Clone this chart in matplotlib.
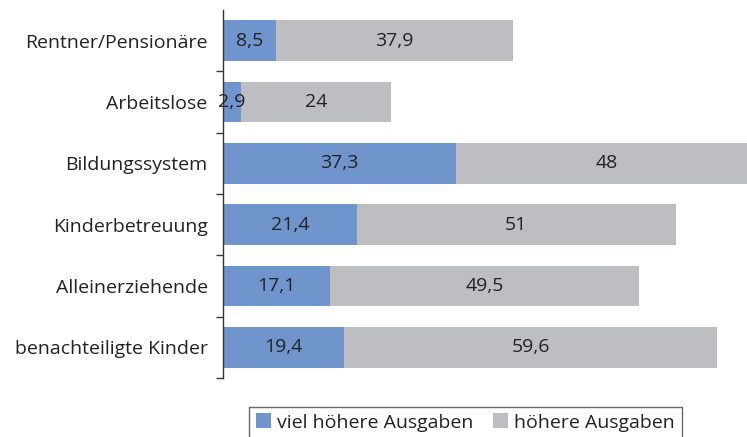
import matplotlib.pyplot as plt
import numpy as np

categories = ["Rentner/Pensionäre", "Arbeitslose", "Bildungssystem",
              "Kinderbetreuung", "Alleinerziehende", "benachteiligte Kinder"]
viel_hoeher = [8.5, 2.9, 37.3, 21.4, 17.1, 19.4]
hoeher = [37.9, 24, 48, 51, 49.5, 59.6]
labels_viel = ["8,5", "2,9", "37,3", "21,4", "17,1", "19,4"]
labels_hoeher = ["37,9", "24", "48", "51", "49,5", "59,6"]

blue = "#7095CD"
gray = "#BDBEC2"
txt = "#222222"
fs = 14

plt.rcParams['font.family'] = ['Open Sans', 'DejaVu Sans']

fig = plt.figure(figsize=(7.47, 4.37), dpi=100)
ax = fig.add_axes([223 / 747, 1 - 378 / 437, 1 - 223 / 747, 368 / 437])

y = np.arange(len(categories))
h = 0.66
ax.barh(y, viel_hoeher, height=h, color=blue, label="viel höhere Ausgaben")
ax.barh(y, hoeher, left=viel_hoeher, height=h, color=gray, label="höhere Ausgaben")

for i in range(len(categories)):
    ax.text(viel_hoeher[i] / 2, y[i], labels_viel[i], ha='center', va='center',
            fontsize=fs, color=txt)
    ax.text(viel_hoeher[i] + hoeher[i] / 2, y[i], labels_hoeher[i], ha='center',
            va='center', fontsize=fs, color=txt)

ax.set_xlim(0, 83.8)
ax.set_ylim(len(categories) - 0.5, -0.5)
ax.set_yticks(y)
ax.set_yticklabels(categories, fontsize=fs, color=txt)
ax.set_yticks(np.arange(len(categories)) + 0.5, minor=True)
ax.tick_params(axis='y', which='major', length=0, pad=11)
ax.tick_params(axis='y', which='minor', length=5, width=1, color='#333333')
ax.set_xticks([])
for s in ['top', 'right', 'bottom']:
    ax.spines[s].set_visible(False)
ax.spines['left'].set_color('#333333')
ax.spines['left'].set_linewidth(1)

leg = fig.legend(loc='upper center', bbox_to_anchor=(0.623, 0.092), ncol=2,
                 frameon=True, fancybox=False, fontsize=fs, handlelength=0.8,
                 handleheight=0.8, handletextpad=0.3, columnspacing=1.0,
                 borderpad=0.35, labelcolor=txt)
leg.get_frame().set_edgecolor('#444444')
leg.get_frame().set_linewidth(1)

fig.savefig("out.png", dpi=100)
